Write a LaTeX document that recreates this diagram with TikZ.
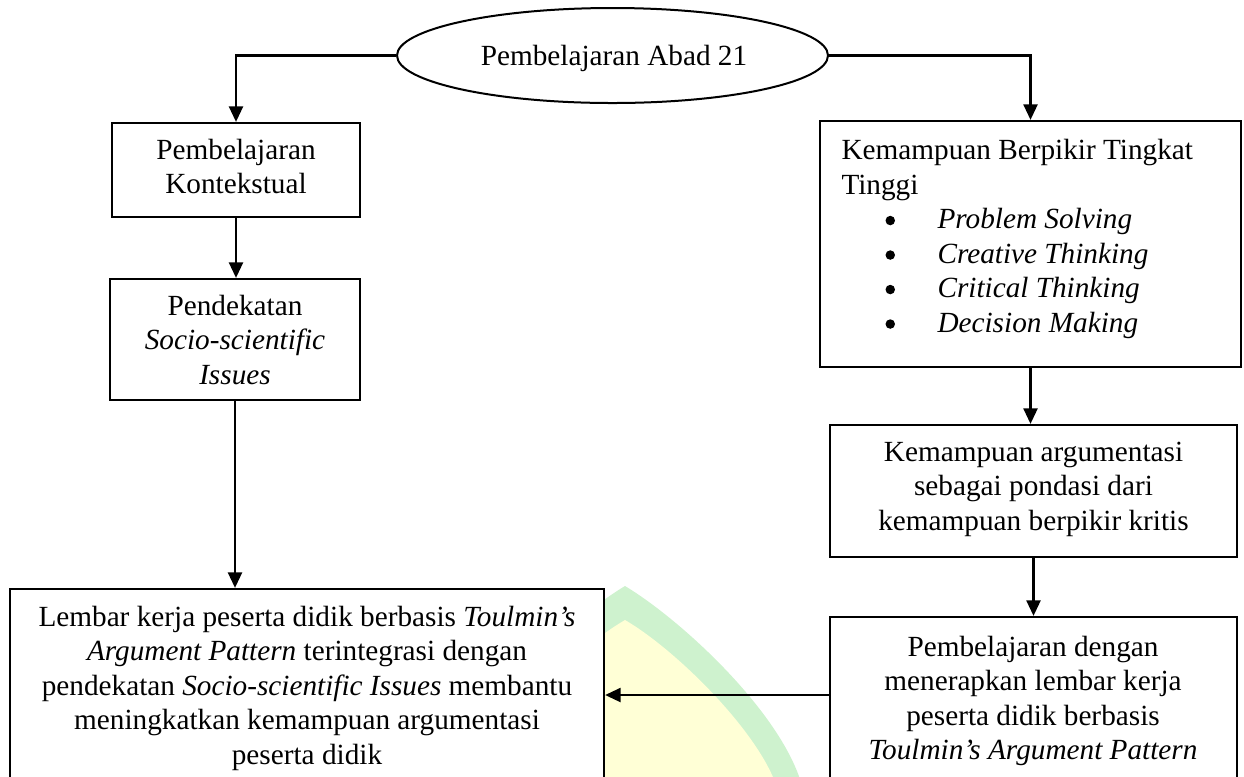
\documentclass[tikz,border=0pt]{standalone}
\usepackage{fontspec}
\setmainfont{Liberation Serif}
\usetikzlibrary{arrows.meta,shapes.geometric,fit}
\definecolor{wmgreen}{RGB}{206,242,206}
\definecolor{wmyellow}{RGB}{255,255,214}
% list bullet: a round dot, indented, followed by the item text
\newcommand{\itembullet}{\makebox[38.4pt][l]{\hspace*{17.6pt}%
  \tikz[baseline=0pt]\fill (1.9pt,3.3pt) circle[radius=1.9pt];}}

\begin{document}
\begin{tikzpicture}[x=0.4pt,y=-0.4pt,
  every node/.style={font=\fontsize{11.7}{13.8}\selectfont},
  box/.style={draw, line width=0.9pt, fill=white, inner sep=0pt},
  txt/.style={inner sep=0pt},
  conn/.style={line width=0.9pt, -{Triangle[width=5.6pt,length=6.2pt]}}]
\useasboundingbox (0,0) rectangle (1244,776);
\clip (0,0) rectangle (1244,776);

% faint emblem behind the lower boxes
\fill[wmgreen] (440,800) .. controls (455,725) and (565,622) .. (625,586)
  .. controls (685,622) and (795,725) .. (805,800) -- cycle;
\fill[wmyellow] (465,800) .. controls (475,745) and (570,652) .. (625,620)
  .. controls (680,652) and (772,745) .. (780,800) -- cycle;

% top ellipse
\node[draw, ellipse, line width=0.8pt, minimum width=172.4pt, minimum height=38pt,
  inner sep=0pt] (el) at (612.5,55.5) {};
\node[txt] (t0) at (614,58) {Pembelajaran Abad 21};

% left column
\node[box, fit={(112,123) (360,217)}] (b1) {};
\node[txt, align=center] (t1) at (236,166.5) {Pembelajaran\\Kontekstual};
\node[box, fit={(110,279) (360,400)}] (b2) {};
\node[txt, align=center] (t2) at (235,340)
  {Pendekatan\\\textit{Socio-scientific}\\\textit{Issues}};
\node[box, fit={(10,589) (604,801)}] (b5) {};
\node[txt, align=center] (t5) at (307,688)
  {Lembar kerja peserta didik berbasis \textit{Toulmin’s}\\
   \textit{Argument Pattern} terintegrasi dengan\\
   pendekatan \textit{Socio-scientific Issues} membantu\\
   meningkatkan kemampuan argumentasi\\
   peserta didik};

% right column
\node[box, fit={(820,121) (1241,367)}] (b3) {};
\node[txt, anchor=west, align=left] (t3) at (841,239)
  {Kemampuan Berpikir Tingkat\\
   Tinggi\\
   \itembullet\textit{Problem Solving}\\
   \itembullet\textit{Creative Thinking}\\
   \itembullet\textit{Critical Thinking}\\
   \itembullet\textit{Decision Making}};
\node[box, fit={(830,425) (1237,557)}] (b4) {};
\node[txt, align=center] (t4) at (1033.5,489)
  {Kemampuan argumentasi\\sebagai pondasi dari\\kemampuan berpikir kritis};
\node[box, fit={(830,617) (1237,801)}] (b6) {};
\node[txt, align=center] (t6) at (1033,701)
  {Pembelajaran dengan\\
   menerapkan lembar kerja\\
   peserta didik berbasis\\
   \textit{Toulmin’s Argument Pattern}};

% connectors
\draw[conn] (el.west) -| (b1.north);
\draw[conn] (el.east) -| (b3.north);
\draw[conn] (b1.south) -- (b1.south |- b2.north);
\draw[conn] (b2.south) -- (b2.south |- b5.north);
\draw[conn] (b3.south) -- (b3.south |- b4.north);
\draw[conn] (b4.south) -- (b4.south |- b6.north);
\draw[conn] (b6.west |- b5.east) -- (b5.east);
\end{tikzpicture}
\end{document}
